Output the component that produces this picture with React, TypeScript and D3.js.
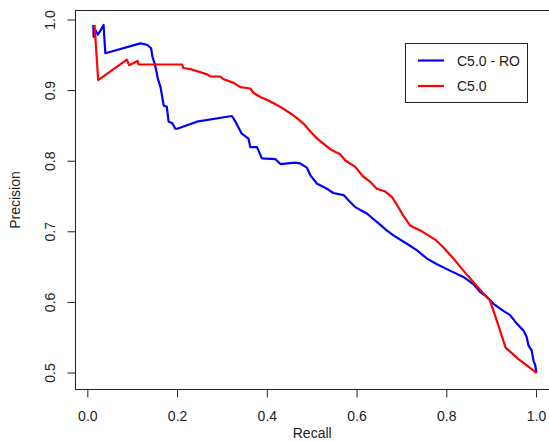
import React from "react";
import * as d3 from "d3";

// C5.0 with random oversampling (blue)
const roRecall = [
  0.012, 0.013, 0.018, 0.022, 0.028, 0.035, 0.039, 0.117, 0.132, 0.141, 0.144, 0.150, 0.156, 0.162,
  0.169, 0.176, 0.180, 0.188, 0.195, 0.199, 0.243, 0.321, 0.329, 0.343, 0.358, 0.362, 0.377, 0.388,
  0.418, 0.429, 0.462, 0.473, 0.488, 0.496, 0.511, 0.533, 0.547, 0.570, 0.585, 0.596, 0.607, 0.622,
  0.629, 0.648, 0.666, 0.681, 0.711, 0.733, 0.756, 0.778, 0.807, 0.837, 0.859, 0.874, 0.889, 0.904,
  0.926, 0.941, 0.956, 0.971, 0.978, 0.982, 0.989, 0.993, 0.997, 1.0,
];
const roPrecision = [
  0.993, 0.976, 0.985, 0.979, 0.985, 0.993, 0.953, 0.967, 0.965, 0.960, 0.948, 0.936, 0.917, 0.905,
  0.879, 0.877, 0.856, 0.854, 0.846, 0.846, 0.856, 0.864, 0.856, 0.839, 0.832, 0.820, 0.820, 0.804,
  0.803, 0.796, 0.798, 0.797, 0.791, 0.780, 0.768, 0.761, 0.755, 0.752, 0.742, 0.735, 0.731, 0.726,
  0.722, 0.712, 0.702, 0.695, 0.683, 0.674, 0.662, 0.654, 0.645, 0.636, 0.626, 0.615, 0.608, 0.598,
  0.588, 0.582, 0.570, 0.560, 0.551, 0.539, 0.532, 0.518, 0.511, 0.5,
];

// plain C5.0 (red)
const c50Recall = [
  0.015, 0.023, 0.087, 0.092, 0.111, 0.113, 0.210, 0.213, 0.232, 0.266, 0.273, 0.295, 0.303, 0.325,
  0.340, 0.362, 0.369, 0.384, 0.399, 0.414, 0.429, 0.451, 0.466, 0.481, 0.496, 0.511, 0.525, 0.540,
  0.562, 0.574, 0.596, 0.614, 0.629, 0.644, 0.663, 0.678, 0.689, 0.703, 0.718, 0.741, 0.774, 0.792,
  0.815, 0.837, 0.859, 0.878, 0.896, 0.911, 0.931, 0.959, 1.0,
];
const c50Precision = [
  0.993, 0.915, 0.944, 0.936, 0.942, 0.937, 0.937, 0.932, 0.930, 0.923, 0.920, 0.920, 0.916, 0.911,
  0.905, 0.903, 0.897, 0.891, 0.887, 0.882, 0.877, 0.868, 0.861, 0.853, 0.842, 0.832, 0.825, 0.817,
  0.810, 0.801, 0.792, 0.778, 0.771, 0.761, 0.757, 0.749, 0.738, 0.723, 0.709, 0.702, 0.689, 0.678,
  0.662, 0.645, 0.629, 0.615, 0.603, 0.575, 0.536, 0.520, 0.5,
];

const xTicks = [0, 0.2, 0.4, 0.6, 0.8, 1.0];
const yTicks = [0.5, 0.6, 0.7, 0.8, 0.9, 1.0];

const series = [
  { name: "C5.0 - RO", color: "#0000ff", recall: roRecall, precision: roPrecision },
  { name: "C5.0", color: "#ff0000", recall: c50Recall, precision: c50Precision },
];

const width = 549;
const height = 441;
const font = "'Liberation Sans', Arial, sans-serif";

const App = () => {
  const x = d3.scaleLinear().domain([-0.0275, 1.04]).range([75.5, 554.5]);
  const y = d3.scaleLinear().domain([0.4766, 1.0135]).range([389.5, 10.5]);

  const line = d3
    .line<[number, number]>()
    .x((d) => x(d[0]))
    .y((d) => y(d[1]));

  const [x0, x1] = x.range();
  const [yb, yt] = y.range();

  return (
    <svg
      width={width}
      height={height}
      style={{ position: "absolute", left: 0, top: 0, background: "#fff" }}
      fontFamily={font}
    >
      <rect x={0} y={0} width={width} height={height} fill="#fff" />

      {series.map((s) => (
        <path
          key={s.name}
          d={line(s.recall.map((r, i) => [r, s.precision[i]] as [number, number])) || ""}
          fill="none"
          stroke={s.color}
          strokeWidth={2.2}
          strokeLinejoin="round"
        />
      ))}

      {/* plot box */}
      <rect x={x0} y={yt} width={x1 - x0} height={yb - yt} fill="none" stroke="#222" strokeWidth={1} />

      {/* x axis */}
      <g>
        {xTicks.map((t) => (
          <g key={t} transform={`translate(${x(t)},0)`}>
            <line y1={yb} y2={yb + 8} stroke="#222" />
            <text y={421} textAnchor="middle" fontSize={14} fill="#222">
              {t.toFixed(1)}
            </text>
          </g>
        ))}
        <text x={(x(0) + x(1)) / 2} y={438} textAnchor="middle" fontSize={14} fill="#222">
          Recall
        </text>
      </g>

      {/* y axis */}
      <g>
        {yTicks.map((t) => (
          <g key={t} transform={`translate(0,${y(t)})`}>
            <line x1={x0 - 8} x2={x0} stroke="#222" />
            <text transform="translate(55,0) rotate(-90)" textAnchor="middle" fontSize={14} fill="#222">
              {t.toFixed(1)}
            </text>
          </g>
        ))}
        <text
          transform={`translate(20,${(yb + yt) / 2}) rotate(-90)`}
          textAnchor="middle"
          fontSize={14}
          fill="#222"
        >
          Precision
        </text>
      </g>

      {/* legend */}
      <g>
        <rect x={405.5} y={43.5} width={122} height={59} fill="#fff" stroke="#222" />
        {series.map((s, i) => (
          <g key={s.name} transform={`translate(0,${60.5 + i * 25.5})`}>
            <line x1={418} x2={444} stroke={s.color} strokeWidth={2.2} />
            <text x={457} y={5} fontSize={14} fill="#222">
              {s.name}
            </text>
          </g>
        ))}
      </g>
    </svg>
  );
};

export default App;
